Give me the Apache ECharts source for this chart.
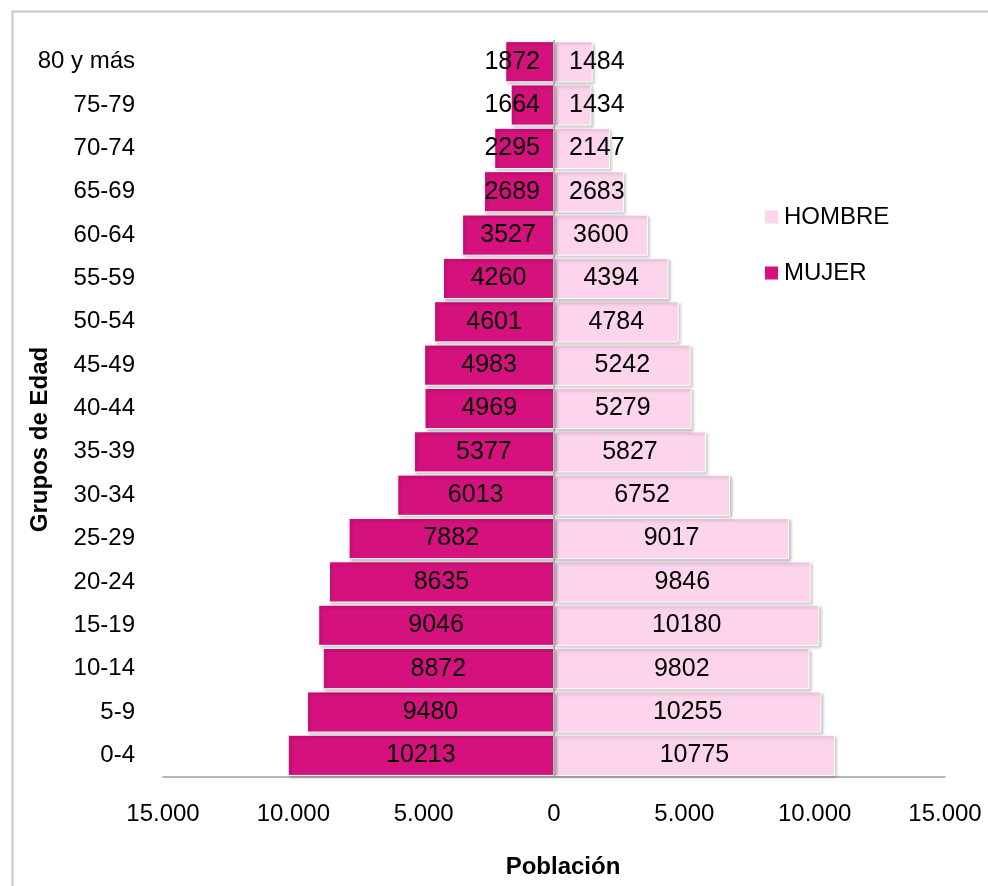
<!DOCTYPE html>
<html>
<head>
<meta charset="utf-8">
<script src="https://cdn.jsdelivr.net/npm/echarts@6/dist/echarts.min.js"></script>
<style>html,body{margin:0;padding:0;background:#fff}#c{width:988px;height:886px}</style>
</head>
<body>
<div id="c"></div>
<script>
const categories = ['0-4','5-9','10-14','15-19','20-24','25-29','30-34','35-39','40-44','45-49','50-54','55-59','60-64','65-69','70-74','75-79','80 y más'];
const hombre = [10775,10255,9802,10180,9846,9017,6752,5827,5279,5242,4784,4394,3600,2683,2147,1434,1484];
const mujer = [10213,9480,8872,9046,8635,7882,6013,5377,4969,4983,4601,4260,3527,2689,2295,1664,1872];
const xTicks = {min:-15000, max:15000, interval:5000};

const FONT = 'Liberation Sans';
const chart = echarts.init(document.getElementById('c'));
const fmt = v => { const a = Math.abs(v); return a >= 1000 ? Math.floor(a/1000) + '.' + String(a%1000).padStart(3,'0') : String(a); };
const barStyle = (c) => ({color:c, borderColor:'#fff', borderWidth:1, shadowColor:'rgba(0,0,0,0.25)', shadowBlur:3, shadowOffsetX:2, shadowOffsetY:2});
const GAP = 14;
chart.setOption({
  animation:false,
  textStyle:{fontFamily:FONT},
  graphic:[{type:'rect', left:10, top:9, shape:{width:1000, height:1000}, style:{fill:'none', stroke:'#c8c8c8', lineWidth:2}, z:-1}],
  grid:{left:163, right:43, top:40, bottom:109, containLabel:false, outerBoundsMode:'none'},
  legend:{
    data:['HOMBRE','MUJER'], orient:'vertical', left:758, top:200, itemGap:32,
    itemWidth:15, itemHeight:15, icon:'rect',
    textStyle:{fontFamily:FONT, fontSize:24, color:'#000'}
  },
  xAxis:{
    type:'value', min:xTicks.min, max:xTicks.max, interval:xTicks.interval,
    name:'Población', nameLocation:'middle', nameGap:78,
    nameTextStyle:{fontFamily:FONT, fontSize:24, fontWeight:'bold', color:'#000', padding:[0,0,0,18]},
    axisLine:{show:true, lineStyle:{color:'#a0a0a0', width:1.5}},
    axisTick:{show:false}, splitLine:{show:false},
    axisLabel:{formatter:fmt, fontFamily:FONT, fontSize:24, color:'#000', margin:25}
  },
  yAxis:{
    type:'category', data:categories,
    name:'Grupos de Edad', nameLocation:'middle', nameGap:111, nameRotate:90, nameMoveOverlap:false,
    nameTextStyle:{fontFamily:FONT, fontSize:24, fontWeight:'bold', color:'#000', padding:[0,62,0,0]},
    axisLine:{show:false}, axisTick:{show:false},
    axisLabel:{fontFamily:FONT, fontSize:24, color:'#000', margin:28}
  },
  series:[
    {name:'HOMBRE', type:'bar', data:hombre, barWidth:'95%', barGap:'-100%',
     itemStyle:barStyle('#FCD5EC'),
     label:{show:true, position:'inside', color:'#000', fontFamily:FONT, fontSize:25},
     labelLayout:function(p){
       const minX = p.rect.x + GAP + 1;
       return p.labelRect.x < minX ? {dx: minX - p.labelRect.x} : {};
     }},
    {name:'MUJER', type:'bar', data:mujer.map(v=>-v), barWidth:'95%', barGap:'-100%',
     itemStyle:barStyle('#D4117D'),
     label:{show:true, position:'inside', color:'#000', fontFamily:FONT, fontSize:25, formatter:p=>String(Math.abs(p.value))},
     labelLayout:function(p){
       const maxX = p.rect.x + p.rect.width - GAP;
       const r = p.labelRect.x + p.labelRect.width;
       return r > maxX ? {dx: maxX - r} : {};
     },
     markLine:{silent:true, symbol:'none', label:{show:false}, lineStyle:{color:'#a0a0a0', width:1.5, type:'solid'}, data:[{xAxis:0}]}}
  ]
});
</script>
</body>
</html>
